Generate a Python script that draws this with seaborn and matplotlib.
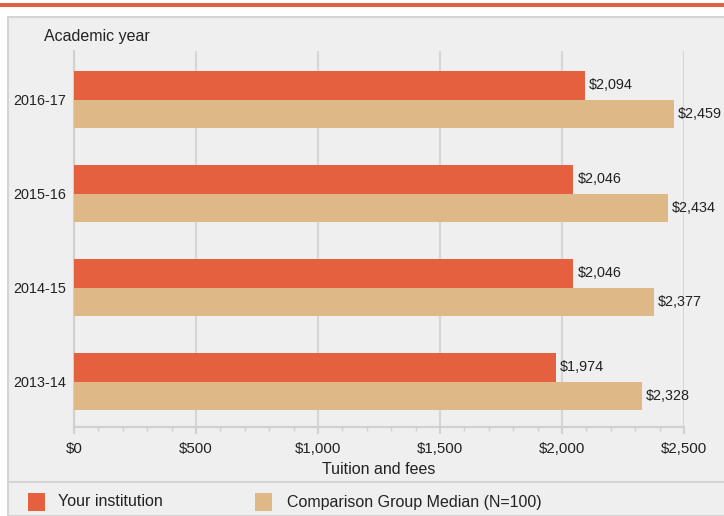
import pandas as pd
import seaborn as sns
import matplotlib.pyplot as plt
from matplotlib.patches import Rectangle
from matplotlib.lines import Line2D
from matplotlib.ticker import MultipleLocator, FuncFormatter

years = ["2016-17", "2015-16", "2014-15", "2013-14"]
your_institution = [2094, 2046, 2046, 1974]
comparison_median = [2459, 2434, 2377, 2328]
series_names = ["Your institution", "Comparison Group Median (N=100)"]
colors = ["#e5603f", "#deb887"]

df = pd.DataFrame({
    "year": years * 2,
    "value": your_institution + comparison_median,
    "group": [series_names[0]] * 4 + [series_names[1]] * 4,
})

sns.set_style("white")
plt.rcParams['font.family'] = ['Liberation Sans', 'DejaVu Sans']

W, H = 724, 516
fig = plt.figure(figsize=(W / 100, H / 100), dpi=100)
fig.patch.set_facecolor("white")

def fx(px):
    return px / W

def fy(py):
    return 1 - py / H

# background panel and top band
fig.patches.append(Rectangle((fx(8), 0), 1 - fx(8) + 0.01, fy(17), transform=fig.transFigure,
                             facecolor="#efefef", edgecolor="#d4d4d4", linewidth=1.5, zorder=-2))
fig.patches.append(Rectangle((0, fy(7)), 1, fy(3) - fy(7), transform=fig.transFigure,
                             facecolor="#db6340", edgecolor="none", zorder=-2))
fig.lines.append(Line2D([fx(8), 1], [fy(482), fy(482)], transform=fig.transFigure,
                        color="#d4d4d4", linewidth=1.5, zorder=-1))

ax = fig.add_axes([fx(74), fy(427), fx(684) - fx(74), fy(51) - fy(427)])
ax.set_facecolor("#efefef")

sns.barplot(data=df, y="year", x="value", hue="group", order=years, hue_order=series_names,
            palette=colors, width=0.6, orient="h", ax=ax, saturation=1, legend=False,
            linewidth=0, zorder=3)

for cont in ax.containers:
    ax.bar_label(cont, labels=[f"${v:,.0f}" for v in cont.datavalues], padding=3,
                 fontsize=10.4, color="#222222")

ax.set_xlim(0, 2500)
ax.set_ylim(3.484, -0.516)
ax.xaxis.set_major_locator(MultipleLocator(500))
ax.xaxis.set_minor_locator(MultipleLocator(100))
ax.xaxis.set_major_formatter(FuncFormatter(lambda v, p: f"${v:,.0f}"))
ax.grid(axis="x", which="major", color="#d6d6d6", linewidth=1.5, zorder=0)
ax.set_axisbelow(True)
ax.tick_params(axis="x", which="both", bottom=True, direction="out")
ax.tick_params(axis="x", which="major", length=5, width=1.5, color="#d0d0d0",
               labelsize=10.8, pad=6, labelcolor="#222222")
ax.tick_params(axis="x", which="minor", length=3, width=1.0, color="#d0d0d0")
ax.tick_params(axis="y", length=0, labelsize=10.4, pad=6, labelcolor="#222222")

for side in ["top", "right"]:
    ax.spines[side].set_visible(False)
for side in ["left", "bottom"]:
    ax.spines[side].set_color("#d0d0d0")
    ax.spines[side].set_linewidth(1.5)

ax.set_xlabel("Tuition and fees", fontsize=11.5, color="#222222", labelpad=4)
ax.set_ylabel("")
fig.text(fx(44), fy(37), "Academic year", fontsize=11.5, color="#222222", va="center", ha="left")

# legend
legend_x = [28, 255]
text_x = [58, 287]
for i, name in enumerate(series_names):
    fig.patches.append(Rectangle((fx(legend_x[i]), fy(511)), fx(17), fy(493) - fy(511),
                                 transform=fig.transFigure, facecolor=colors[i], edgecolor="none"))
    fig.text(fx(text_x[i]), fy(502), name, fontsize=11.5, color="#222222", va="center", ha="left")

fig.savefig("out.png", dpi=100)
